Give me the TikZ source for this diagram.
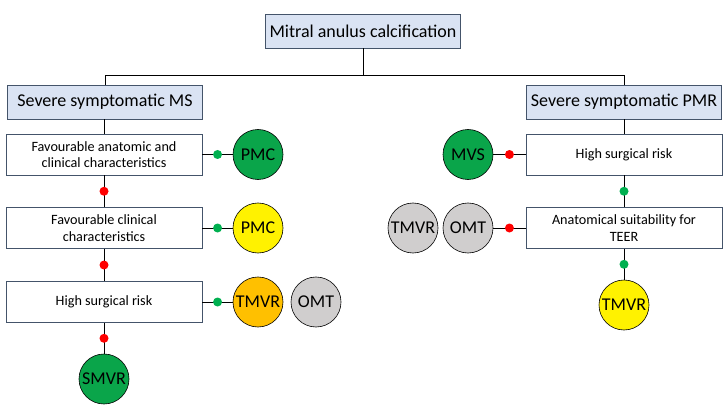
\documentclass[tikz,border=0pt]{standalone}
\usepackage{fontspec}
\setmainfont{Carlito}
\usepackage{tikz}
\definecolor{boxline}{HTML}{44546A}
\definecolor{headfill}{HTML}{DAE3F3}
\definecolor{okgreen}{HTML}{00B050}
\definecolor{darkgreen}{HTML}{0AA54A}
\definecolor{ambar}{HTML}{FFC000}
\definecolor{lightgrey}{HTML}{D0CECE}
\tikzset{
  headbox/.style={draw=boxline, line width=0.8pt, fill=headfill, minimum width=195pt, minimum height=34pt, font=\fontsize{18}{20}\selectfont, inner sep=2pt},
  stepbox/.style={draw=boxline, line width=0.8pt, fill=white, minimum width=196pt, minimum height=41pt, align=center, font=\fontsize{14.2}{16.5}\selectfont, inner sep=2pt},
  choice/.style={circle, draw=black, line width=0.6pt, minimum size=50pt, inner sep=0pt, font=\fontsize{18}{20}\selectfont},
  reddot/.style={circle, fill=red, minimum size=9pt, inner sep=0pt},
  greendot/.style={circle, fill=okgreen, minimum size=9pt, inner sep=0pt},
  link/.style={line width=0.6pt, black}
}
\begin{document}
\begin{tikzpicture}[x=1pt, y=-1pt]
			%%%%% START %%%%%
			\useasboundingbox (0, 0) rectangle (726, 409);
			
			\node[headbox] (mac) at (363, 31) {Mitral anulus calcification};
			\node[headbox] (ms) at (105, 102) {Severe symptomatic MS};
			\node[headbox] (pmr) at (624, 102) {Severe symptomatic PMR};
			
			\draw[link] (mac.south) -- (363, 75) -| (ms.north);
			\draw[link] (363, 75) -| (pmr.north);
			
			%% MS branch
			\node[stepbox] (ms1) at (104, 154.5) {Favourable anatomic and\\clinical characteristics};
			\node[stepbox] (ms2) at (104, 228) {Favourable clinical\\characteristics};
			\node[stepbox] (ms3) at (104, 302) {High surgical risk};
			
			\node[choice, fill=darkgreen] (pmc1) at (258, 154.5) {PMC};
			\node[choice, fill=yellow] (pmc2) at (258, 228) {PMC};
			\node[choice, fill=ambar] (tmvr1) at (258, 302) {TMVR};
			\node[choice, fill=lightgrey] (omt1) at (316, 302) {OMT};
			\node[choice, fill=darkgreen] (smvr) at (104, 379) {SMVR};
			
			\draw[link] (ms.south -| ms1.north) -- (ms1.north);
			\draw[link] (ms1.south) -- node[reddot] {} (ms2.north);
			\draw[link] (ms2.south) -- node[reddot] {} (ms3.north);
			\draw[link] (ms3.south) -- node[reddot] {} (smvr.north);
			\draw[link] (ms1.east) -- node[greendot] {} (pmc1.west);
			\draw[link] (ms2.east) -- node[greendot] {} (pmc2.west);
			\draw[link] (ms3.east) -- node[greendot] {} (tmvr1.west);
			
			%% PMR branch
			\node[stepbox] (pmr1) at (624, 154.5) {High surgical risk};
			\node[stepbox] (pmr2) at (624, 228) {Anatomical suitability for\\TEER};
			
			\node[choice, fill=darkgreen] (mvs) at (468, 154.5) {MVS};
			\node[choice, fill=lightgrey] (omt2) at (468, 228) {OMT};
			\node[choice, fill=lightgrey] (tmvr2) at (413, 228) {TMVR};
			\node[choice, fill=yellow] (tmvr3) at (624, 305) {TMVR};
			
			\draw[link] (pmr.south) -- (pmr1.north);
			\draw[link] (pmr1.south) -- node[greendot] {} (pmr2.north);
			\draw[link] (pmr2.south) -- node[greendot] {} (tmvr3.north);
			\draw[link] (pmr1.west) -- node[reddot] {} (mvs.east);
			\draw[link] (pmr2.west) -- node[reddot] {} (omt2.east);
			
			%%%%% END %%%%%
\end{tikzpicture}
\end{document}
